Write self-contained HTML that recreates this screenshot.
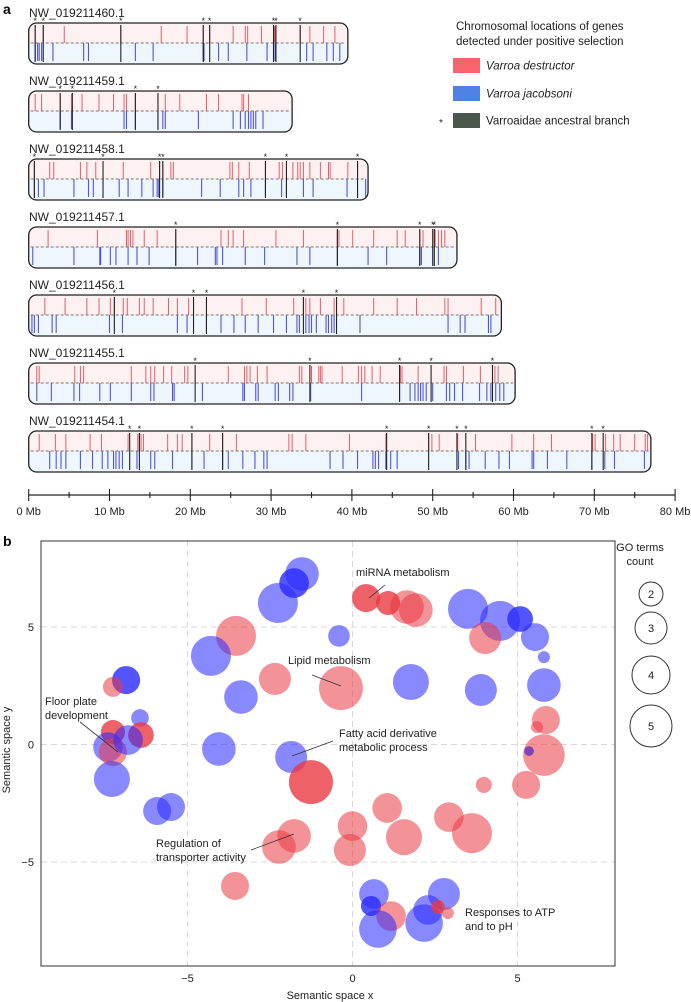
<!DOCTYPE html>
<html><head><meta charset="utf-8"><style>
body{margin:0;background:#fff;}
svg{display:block;font-family:"Liberation Sans",Arial,sans-serif;}
</style></head><body>
<svg id="fig" width="691" height="1002" viewBox="0 0 691 1002" xmlns="http://www.w3.org/2000/svg">
<text x="3" y="14" font-size="14" font-weight="bold">a</text>
<text x="3" y="546" font-size="14" font-weight="bold">b</text>
<g id="chroms"></g>
<g id="axisA"></g>
<g>
<text x="456" y="30" font-size="11.5" fill="#222">Chromosomal locations of genes</text>
<text x="456" y="45" font-size="11.5" fill="#222">detected under positive selection</text>
<rect x="453" y="58" width="27" height="15" fill="#f8646c"/>
<text x="486" y="69.5" font-size="11.5" font-style="italic" fill="#222">Varroa destructor</text>
<rect x="453" y="86" width="27" height="15" fill="#5080e4"/>
<text x="486" y="97.5" font-size="11.5" font-style="italic" fill="#222">Varroa jacobsoni</text>
<rect x="453" y="113" width="27" height="15" fill="#4a574d"/>
<text x="439" y="126" font-size="10" fill="#222">*</text>
<text x="486" y="124.5" font-size="11.5" fill="#222">Varroaidae ancestral branch</text>
</g>
<g id="plotB"></g>
</svg>
<script>
const chromNames=["NW_019211460.1","NW_019211459.1","NW_019211458.1","NW_019211457.1","NW_019211456.1","NW_019211455.1","NW_019211454.1"];
const chromLengths=[39.5,32.6,42.0,53.0,58.5,60.2,77.0];
const redGenes=[
[0.8,1.8,4.4,11.4,16.4,19.6,21.6,22.4,25.3,26.8,27.1,28.8,30.4,30.5,33.6,34.8,36.5,37.9],
[0.8,1.6,3.9,5.3,6.6,8.7,10.5,11.8,12.1,13.2,16.0,16.9,18.7,22.0,23.5,26.4,26.6,27.2],
[0.7,2.6,3.1,6.4,7.2,8.3,11.7,15.1,16.2,16.6,17.6,17.9,24.9,25.2,26,27.3,29.3,31,31.4,32.7,33.3,33.6,34,34.8,36.1,37.1,37.3,39.5,40.7],
[2.4,8.5,12.1,12.3,12.6,12.9,14.3,15.9,18.2,23.8,24.7,25.3,26.6,30.6,34,38.2,38.4,40.1,42.7,45.6,46.6,48.4,48.8,50.3,50.7,51.1,51.5],
[2,4.5,7.2,8.7,10.1,10.6,11.7,12.2,13.7,14.3,15.4,17.3,18.4,19.8,20.4,22.0,26.4,29.4,32.8,34,34.3,34.8,36.1,37.8,39,42.7,45.6,48,51.5,51.9,56,57.8],
[1,1.3,5.7,6.4,6.8,12.7,14.5,15.1,15.6,16.7,17.7,19.3,19.7,24.7,26.7,27,27.4,28.3,29.5,33.5,33.8,35,35.9,36.1,36.3,38.8,40.8,41.2,41.6,42.5,43.5,46,46.2,48.2,51.4,51.7,53.8,55.9,57.7,58.1],
[1.3,3.3,4.6,7.6,9,12.3,13.5,13.7,13.9,14.2,17.2,18.4,19,20.2,22.4,24,25.7,32.2,32.6,34.3,39.7,44.2,49.5,49.9,50.8,53.1,55.3,59.8,62.5,64.7,69.8,70.1,71.4,72.4,73.2,75,76.3,76.6]];
const blueGenes=[
[0.8,1.1,1.3,1.6,3.0,6.8,7.4,13.2,15.4,21.6,21.7,23.5,24.7,27.0,29.5,30.3,30.5,34.4,35.2,36.9,37.7,38.5],
[3.9,5.3,11.8,12.1,13.2,16.0,16.6,16.9,21.0,25.3,26.2,26.8,27.2,27.5,27.8,28.1,29.0],
[0.7,1.2,1.9,5.6,7.4,8,11.2,12.3,14,15.4,15.9,16.1,16.6,21.4,23.7,26,26.6,27.5,29.3,31.3,31.9,34,35.2,39.4,41.7],
[0.5,5.6,8.8,8.9,10.1,10.8,12.3,13.4,14.9,18.2,20.9,23.1,23.3,24,26.8,29.2,33.2,34.8,38.2,42,44.3,48.4,48.6,50.7],
[0.4,0.7,1.2,2.9,3.4,10,11.6,18.4,19.6,22,23.8,25.4,26.8,28.4,30.3,31.9,33.2,33.5,34.3,34.7,35,35.6,36.8,37.1,37.5,37.8,41,51.9,53.4,54,56.9,57.2],
[1,2.8,5.6,6.3,8.8,10.1,12.7,15.1,15.5,17.8,18.0,21.5,26.5,26.7,28.1,28.4,30.5,30.9,32.3,32.7,34.9,41.2,45.9,47.2,47.8,48.2,48.5,48.8,49.2,50,51.7,52.1,52.7,53.7,55.8,56.7,57.2,57.8,58.3,58.8],
[2.6,3.4,4,4.6,6.4,7.9,9.1,9.8,10.5,10.8,11.2,11.6,13.4,15.1,15.6,17.8,20.2,21.7,24,24.7,26.5,28,29.1,29.5,37.3,38.9,40.7,42.6,42.9,43.3,44.2,44.8,45.6,53.2,54.1,54.5,56.5,58.2,59.5,62.3,62.5,64.2,66.6,69.7,71.3,72.5,76.2]];
const ancGenes=[
[0.8,1.8,11.4,21.6,22.4,30.3,30.6,33.6],
[3.9,5.4,13.2,16.0],
[0.7,9.2,16.2,16.6,29.3,31.9,40.7],
[18.2,38.2,48.4,50.0,50.2],
[10.6,20.4,22.0,34,38.1],
[20.6,34.8,45.9,49.8,57.4],
[12.5,13.7,20.2,24.0,44.3,49.5,53,54.1,69.7,71.1]];
const mbTicks=[0,10,20,30,40,50,60,70,80];

const NS="http://www.w3.org/2000/svg";
function mk(tag,attrs,parent){const e=document.createElementNS(NS,tag);for(const k in attrs)e.setAttribute(k,attrs[k]);parent.appendChild(e);return e;}
const mbX=m=>28.7+m*8.08;
const chromG=document.getElementById('chroms');
chromNames.forEach((nm,i)=>{
  const t=23+68*i,h=41,mid=t+20,x0=mbX(0),x1=mbX(chromLengths[i]);
  const g=mk('g',{},chromG);
  
  
  const lab=mk('text',{x:29,y:t-6,'font-size':12,fill:'#222'},g);lab.textContent=nm;
  
  
  const cid='clip'+i;
  const cp=mk('clipPath',{id:cid},g);
  mk('rect',{x:x0,y:t,width:x1-x0,height:h,rx:8},cp);
  mk('rect',{x:x0,y:t,width:x1-x0,height:mid-t,fill:'#fdf1f1','clip-path':'url(#'+cid+')'},g);
  mk('rect',{x:x0,y:mid,width:x1-x0,height:t+h-mid,fill:'#eef7fd','clip-path':'url(#'+cid+')'},g);
  redGenes[i].forEach(m=>{const l=mk('line',{x1:mbX(m),x2:mbX(m),y1:t+3,y2:mid,stroke:'#de3a48','stroke-width':1,'stroke-opacity':0.8},g);
    
    });
  blueGenes[i].forEach(m=>{const l=mk('line',{x1:mbX(m),x2:mbX(m),y1:mid,y2:t+h-3,stroke:'#2a2ad2','stroke-width':1.1,'stroke-opacity':0.8},g);
    
    });
  mk('line',{x1:x0+2,x2:x1-2,y1:mid,y2:mid,stroke:'#8a6f70','stroke-width':0.9,'stroke-dasharray':'3,2'},g);
  ancGenes[i].forEach(m=>{const l=mk('line',{x1:mbX(m),x2:mbX(m),y1:t+2,y2:t+h-2,stroke:'#222','stroke-width':1.1},g);
    
    
    const s=mk('text',{x:mbX(m),y:t+1,'font-size':9,'text-anchor':'middle',fill:'#222'},g);s.textContent='*';
    
    });
  const o=mk('rect',{x:x0,y:t,width:x1-x0,height:h,rx:8,fill:'none',stroke:'#222','stroke-width':1.3},g);
  
  
});
const axA=document.getElementById('axisA');
mk('line',{x1:mbX(0),x2:mbX(80),y1:495,y2:495,stroke:'#222','stroke-width':1.2},axA);
for(let m=0;m<=80;m+=5){mk('line',{x1:mbX(m),x2:mbX(m),y1:m%10?492:489,y2:m%10?498:501,stroke:'#222','stroke-width':1.1},axA);}
mbTicks.forEach(m=>{const t=mk('text',{x:mbX(m),y:515,'font-size':11,'text-anchor':'middle',fill:'#222'},axA);t.textContent=m+' Mb';
  
  });

// Panel b data
const bubbleX=[-1.53,-1.77,-1.77,-2.26,0.41,0.41,1.08,1.08,1.65,1.92,3.50,4.47,5.08,5.08,4.02,5.53,5.80,-3.53,-0.41,-4.29,-2.35,-0.35,1.77,3.89,5.80,-3.38,-6.86,-6.86,-7.26,-6.44,5.86,-7.26,-7.26,-6.41,-6.41,-7.41,-7.26,-6.80,-7.29,-5.92,-5.50,-4.05,-1.86,-1.26,-1.26,1.05,0.0,1.56,2.92,3.62,-1.77,-2.23,-0.08,-3.56,3.98,5.26,5.80,5.35,5.35,5.59,0.65,0.56,0.56,1.17,0.77,2.17,2.29,2.77,2.59,2.59,2.89];
const bubbleY=[7.26,6.87,6.87,6.02,6.23,6.23,6.02,6.02,5.85,5.72,5.77,5.26,5.34,5.34,4.53,4.57,3.72,4.62,4.62,3.77,2.79,2.40,2.66,2.32,2.53,2.02,2.74,2.74,2.45,1.13,1.04,0.53,0.53,0.40,0.40,-0.11,-0.32,0.19,-1.47,-2.83,-2.66,-0.19,-0.53,-1.60,-1.60,-2.70,-3.47,-3.94,-3.09,-3.77,-3.89,-4.36,-4.49,-6.02,-1.72,-1.72,-0.45,-0.28,-0.28,0.74,-6.36,-6.87,-6.87,-7.30,-7.85,-7.60,-7.04,-6.36,-6.91,-6.91,-7.17];
const bubbleSize=[4.2,3.7,3.7,5,3.5,3.5,3,3,4.2,4.2,5,5,3.2,3.2,4,3.5,1.5,5,2.7,5,4,5.5,4.5,4,4.2,4.2,3.5,3.5,2.5,2.2,3.5,3,3,3.2,3.2,3.7,3.5,3.7,4.5,3.5,3.5,4.2,4,5.5,5.5,3.7,3.7,4.5,3.7,5,4.2,4.2,4,3.5,2,3.5,5.2,1.2,1.2,1.5,3.7,2.5,2.5,3.7,4.7,4.7,3.7,4,1.7,1.7,1.5];
const bubbleGroup=["b","b","b","b","r","r","r","r","r","r","b","b","b","b","r","b","b","r","b","b","r","r","b","b","b","b","b","b","r","b","r","r","r","r","r","b","r","b","b","b","b","b","b","r","r","r","r","r","r","r","r","r","r","r","r","r","r","r","b","r","b","b","b","r","b","b","b","b","r","r","r"];
const xTicks=[-5,0,5];
const yTicks=[-5,0,5];
const legendCounts=[2,3,4,5];

const sx=v=>352.5+v*33;
const sy=v=>744.5-v*23.5;
const P={l:41,r:615,t:541,b:966};
const pb=document.getElementById('plotB');
xTicks.forEach(v=>{const l=mk('line',{x1:sx(v),x2:sx(v),y1:P.t,y2:P.b,stroke:'#d8d8d8','stroke-width':1,'stroke-dasharray':'6,4'},pb);
  
  });
yTicks.forEach(v=>{const l=mk('line',{x1:P.l,x2:P.r,y1:sy(v),y2:sy(v),stroke:'#d8d8d8','stroke-width':1,'stroke-dasharray':'6,4'},pb);
  
  });
bubbleX.forEach((x,i)=>{
  const c=mk('circle',{cx:sx(x),cy:sy(bubbleY[i]),r:bubbleSize[i]*4,fill:bubbleGroup[i]==='b'?'rgb(40,40,255)':'rgb(234,56,66)','fill-opacity':0.55},pb);
  
  
});
mk('rect',{x:P.l,y:P.t,width:P.r-P.l,height:P.b-P.t,fill:'none',stroke:'#555','stroke-width':1.2},pb);
xTicks.forEach(v=>{const t=mk('text',{x:sx(v),y:982,'font-size':11,'text-anchor':'middle',fill:'#222'},pb);t.textContent=v<0?'\u2212'+(-v):v;
  
  });
yTicks.forEach(v=>{const t=mk('text',{x:34,y:sy(v)+4,'font-size':11,'text-anchor':'end',fill:'#222'},pb);t.textContent=v<0?'\u2212'+(-v):v;
  
  });
const xt=mk('text',{x:330,y:999,'font-size':11,'text-anchor':'middle',fill:'#222'},pb);xt.textContent='Semantic space x';


const yt=mk('text',{x:10,y:750,'font-size':11,'text-anchor':'middle',fill:'#222',transform:'rotate(-90 10 750)'},pb);yt.textContent='Semantic space y';


const ann=[[356,576,["miRNA metabolism"],[385,585,369,598]],[288,664,["Lipid metabolism"],[312,675,341,686]],[45,705,["Floor plate","development"],[80,722,118,752]],[339,737,["Fatty acid derivative","metabolic process"],[333,741,292,756]],[156,847,["Regulation of","transporter activity"],[251,850,294,834]],[465,916,["Responses to ATP","and to pH"],null]];
ann.forEach(a=>{
  const t=mk('text',{x:a[0],y:a[1],'font-size':11,fill:'#222'},pb);
  a[2].forEach((s,k)=>{const ts=mk('tspan',{x:a[0],dy:k?14:0},t);ts.textContent=s;});
  
  
  if(a[3]){const l=mk('line',{x1:a[3][0],y1:a[3][1],x2:a[3][2],y2:a[3][3],stroke:'#333','stroke-width':0.8},pb);
    
    }
});
const lt=mk('text',{x:640,y:551,'font-size':11,'text-anchor':'middle',fill:'#222'},pb);
mk('tspan',{x:640,dy:0},lt).textContent='GO terms';
mk('tspan',{x:640,dy:14},lt).textContent='count';


const legendCy=[594,628,675,726];
legendCounts.forEach((n,i)=>{
  const r=[12,16,19,21][i];
  const c=mk('circle',{cx:651,cy:legendCy[i],r:r,fill:'none',stroke:'#333','stroke-width':1},pb);
  
  
  const t=mk('text',{x:651,y:legendCy[i]+4,'font-size':11,'text-anchor':'middle',fill:'#222'},pb);t.textContent=n;
  
  
});
</script>
</body></html>
